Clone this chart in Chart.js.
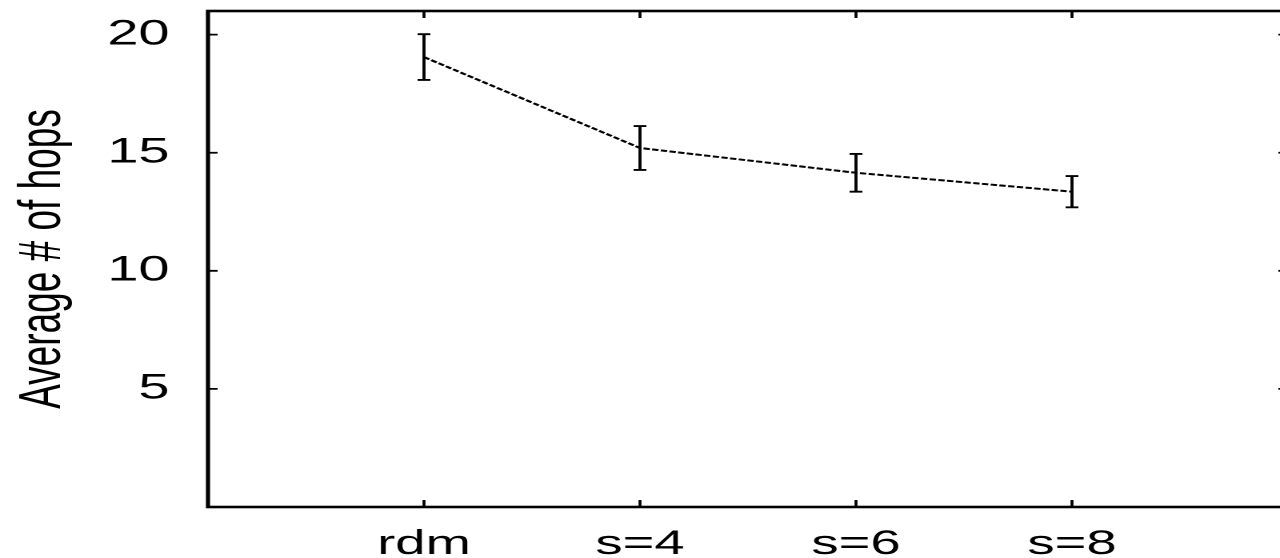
<!DOCTYPE html>
<html>
<head>
<meta charset="utf-8">
<script src="https://cdn.jsdelivr.net/npm/chart.js@4/dist/chart.umd.min.js"></script>
<style>
    html, body { margin: 0; padding: 0; background: #fff; overflow: hidden; width: 1280px; height: 558px; }
    /* the source figure is stretched sideways, so draw narrow and scale X */
    #wrap { width: 810px; height: 558px; transform: scaleX(1.6); transform-origin: 0 0; }
</style>
</head>
<body>
<div id="wrap"><canvas id="hopsChart" width="810" height="558"></canvas></div>
<script>
// data
var categories = ['rdm', 's=4', 's=6', 's=8'];
var avgHops = [19.05, 15.2, 14.15, 13.35];
var errHops = [0.97, 0.93, 0.8, 0.66];
var yTickValues = [5, 10, 15, 20];

var FONT = "'Liberation Sans', Arial, Helvetica, sans-serif";

// box, inward ticks on all four sides, error bars
var framePlugin = {
    id: 'frame',
    afterDatasetsDraw: function(chart) {
        var ctx = chart.ctx, xs = chart.scales.x, ys = chart.scales.y;
        ctx.save();
        ctx.strokeStyle = '#000';
        ctx.lineWidth = 1.9;
        for (var i = 0; i < avgHops.length; i++) {
            var px = xs.getPixelForValue(i + 1);
            var top = ys.getPixelForValue(avgHops[i] + errHops[i]);
            var bot = ys.getPixelForValue(avgHops[i] - errHops[i]);
            ctx.beginPath();
            ctx.moveTo(px, top); ctx.lineTo(px, bot);
            ctx.moveTo(px - 4, top); ctx.lineTo(px + 4, top);
            ctx.moveTo(px - 4, bot); ctx.lineTo(px + 4, bot);
            ctx.stroke();
        }
        ctx.restore();
    },
    afterDraw: function(chart) {
        var ctx = chart.ctx, a = chart.chartArea, xs = chart.scales.x, ys = chart.scales.y;
        ctx.save();
        ctx.strokeStyle = '#000';
        ctx.lineWidth = 1.8;
        ctx.beginPath();
        yTickValues.forEach(function(v) {
            var py = ys.getPixelForValue(v);
            ctx.moveTo(a.left, py); ctx.lineTo(a.left + 6, py);
            ctx.moveTo(a.right, py); ctx.lineTo(a.right - 6, py);
        });
        categories.forEach(function(c, i) {
            var px = xs.getPixelForValue(i + 1);
            ctx.moveTo(px, a.bottom); ctx.lineTo(px, a.bottom - 7);
            ctx.moveTo(px, a.top); ctx.lineTo(px, a.top + 7);
        });
        ctx.stroke();
        ctx.lineWidth = 2.6;
        ctx.strokeRect(a.left, a.top, a.right - a.left, a.bottom - a.top);
        ctx.restore();
    }
};

function noPad(scale) {
    scale.paddingTop = 0; scale.paddingBottom = 0;
    scale.paddingLeft = 0; scale.paddingRight = 0;
}

new Chart(document.getElementById('hopsChart'), {
    type: 'line',
    data: {
        datasets: [{
            data: avgHops.map(function(v, i) { return { x: i + 1, y: v }; }),
            borderColor: '#000',
            borderWidth: 2,
            borderDash: [4, 1.5],
            pointRadius: 0,
            tension: 0,
            fill: false
        }]
    },
    options: {
        responsive: false,
        animation: false,
        devicePixelRatio: 2,
        layout: { padding: { top: 11, right: 5, left: 0, bottom: 0 } },
        plugins: { legend: { display: false }, tooltip: { enabled: false } },
        scales: {
            x: {
                type: 'linear',
                min: 0,
                max: 5,
                afterBuildTicks: function(scale) {
                    scale.ticks = [0, 1, 2, 3, 4, 5].map(function(v) { return { value: v }; });
                },
                afterFit: function(scale) { scale.height = 51; noPad(scale); },
                ticks: {
                    autoSkip: false,
                    maxRotation: 0,
                    padding: 17,
                    color: '#000',
                    font: { family: FONT, size: 34 },
                    callback: function(v) { return categories[v - 1] || ''; }
                },
                grid: { display: false, drawTicks: false },
                border: { display: false }
            },
            y: {
                min: 0,
                max: 21,
                afterBuildTicks: function(scale) {
                    scale.ticks = yTickValues.map(function(v) { return { value: v }; });
                },
                afterFit: function(scale) { scale.width = 130; noPad(scale); },
                ticks: {
                    padding: 24,
                    color: '#000',
                    font: { family: FONT, size: 35 }
                },
                grid: { display: false, drawTicks: false },
                border: { display: false },
                title: {
                    display: true,
                    text: 'Average # of hops',
                    color: '#000',
                    font: { family: FONT, size: 37 },
                    padding: { top: 5, bottom: 0 }
                }
            }
        }
    },
    plugins: [framePlugin]
});
</script>
</body>
</html>
